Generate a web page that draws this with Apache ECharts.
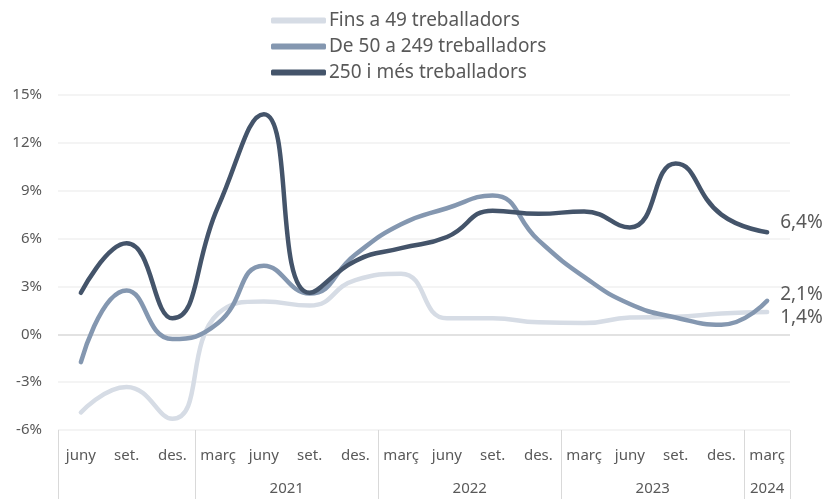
<!DOCTYPE html>
<html>
<head>
<meta charset="utf-8">
<script src="https://cdn.jsdelivr.net/npm/echarts@6/dist/echarts.min.js"></script>
<style>
  html, body { margin: 0; padding: 0; background: #fff; }
  #chart { width: 832px; height: 499px; }
</style>
</head>
<body>
<div id="chart"></div>
<script>
// trimestres: juny 2020 - març 2024
const months = ["juny", "set.", "des.", "març", "juny", "set.", "des.", "març", "juny", "set.", "des.", "març", "juny", "set.", "des.", "març"];
// anys (posició central del grup dins l'eix de 0 a 16) i separadors
const years = ["2021", "2022", "2023", "2024"];
const yearPos = [5, 9, 13, 15.5];
const yearBreaks = [0, 3, 7, 11, 15, 16];

const small = [-4.9, -3.3, -5.3, 1.3, 2.05, 1.8, 3.4, 3.8, 1.0, 1.0, 0.75, 0.7, 1.05, 1.1, 1.3, 1.4];
const medium = [-1.75, 2.75, -0.3, 0.7, 4.3, 2.55, 5.0, 6.9, 7.9, 8.7, 5.9, 3.6, 1.9, 1.05, 0.6, 2.1];
const large = [2.6, 5.7, 1.0, 8.0, 13.8, 2.6, 4.6, 5.4, 6.1, 7.75, 7.55, 7.7, 6.7, 10.7, 7.5, 6.4];

const names = ["Fins a 49 treballadors", "De 50 a 249 treballadors", "250 i més treballadors"];
const colors = ["#d6dce5", "#8497b0", "#44546a"];
const textColor = "#595959";
const font = "Noto Sans";

const myChart = echarts.init(document.getElementById("chart"));

function lineSeries(name, data, color, offset) {
  return {
    name: name,
    type: "line",
    data: data,
    smooth: 0.5,
    symbol: "none",
    lineStyle: { width: 4.5, color: color, cap: "round" },
    itemStyle: { color: color },
    endLabel: {
      show: true,
      distance: 13,
      offset: offset,
      color: textColor,
      fontFamily: font,
      fontSize: 19,
      formatter: p => String(p.value).replace(".", ",") + "%"
    }
  };
}

myChart.setOption({
  animation: false,
  textStyle: { fontFamily: font, color: textColor },
  color: colors,
  legend: {
    orient: "vertical",
    left: 266,
    top: 6,
    itemGap: 7,
    itemWidth: 55,
    itemHeight: 6,
    icon: "roundRect",
    textStyle: { fontSize: 19, color: textColor, fontFamily: font, padding: [0, 0, 0, -2] },
    data: names
  },
  grid: { left: 58, right: 42, top: 95, bottom: 69 },
  xAxis: [
    {
      type: "category",
      data: months,
      axisLine: { show: false },
      axisTick: { show: false },
      axisLabel: { color: textColor, fontSize: 15, margin: 18, interval: 0 }
    },
    {
      type: "value",
      min: 0,
      max: 16,
      position: "bottom",
      axisLine: { show: false },
      splitLine: { show: false },
      axisTick: {
        show: true,
        customValues: yearBreaks,
        length: 70,
        lineStyle: { color: "#d9d9d9", width: 1 }
      },
      axisLabel: {
        customValues: yearPos,
        margin: 51,
        color: textColor,
        fontSize: 15,
        formatter: v => years[yearPos.indexOf(v)] || ""
      }
    }
  ],
  yAxis: {
    type: "value",
    min: -6,
    max: 15,
    interval: 3,
    axisLine: { show: false },
    axisTick: { show: false },
    axisLabel: { color: textColor, fontSize: 15, margin: 16, formatter: "{value}%" },
    splitLine: {
      lineStyle: {
        color: ["#f0f0f0", "#f0f0f0", "#d9d9d9", "#f0f0f0", "#f0f0f0", "#f0f0f0", "#f0f0f0", "#f0f0f0"],
        width: 1.5
      }
    }
  },
  series: [
    lineSeries(names[0], small, colors[0], [0, 6]),
    lineSeries(names[1], medium, colors[1], [0, -6]),
    lineSeries(names[2], large, colors[2], [0, -10])
  ]
});
</script>
</body>
</html>
